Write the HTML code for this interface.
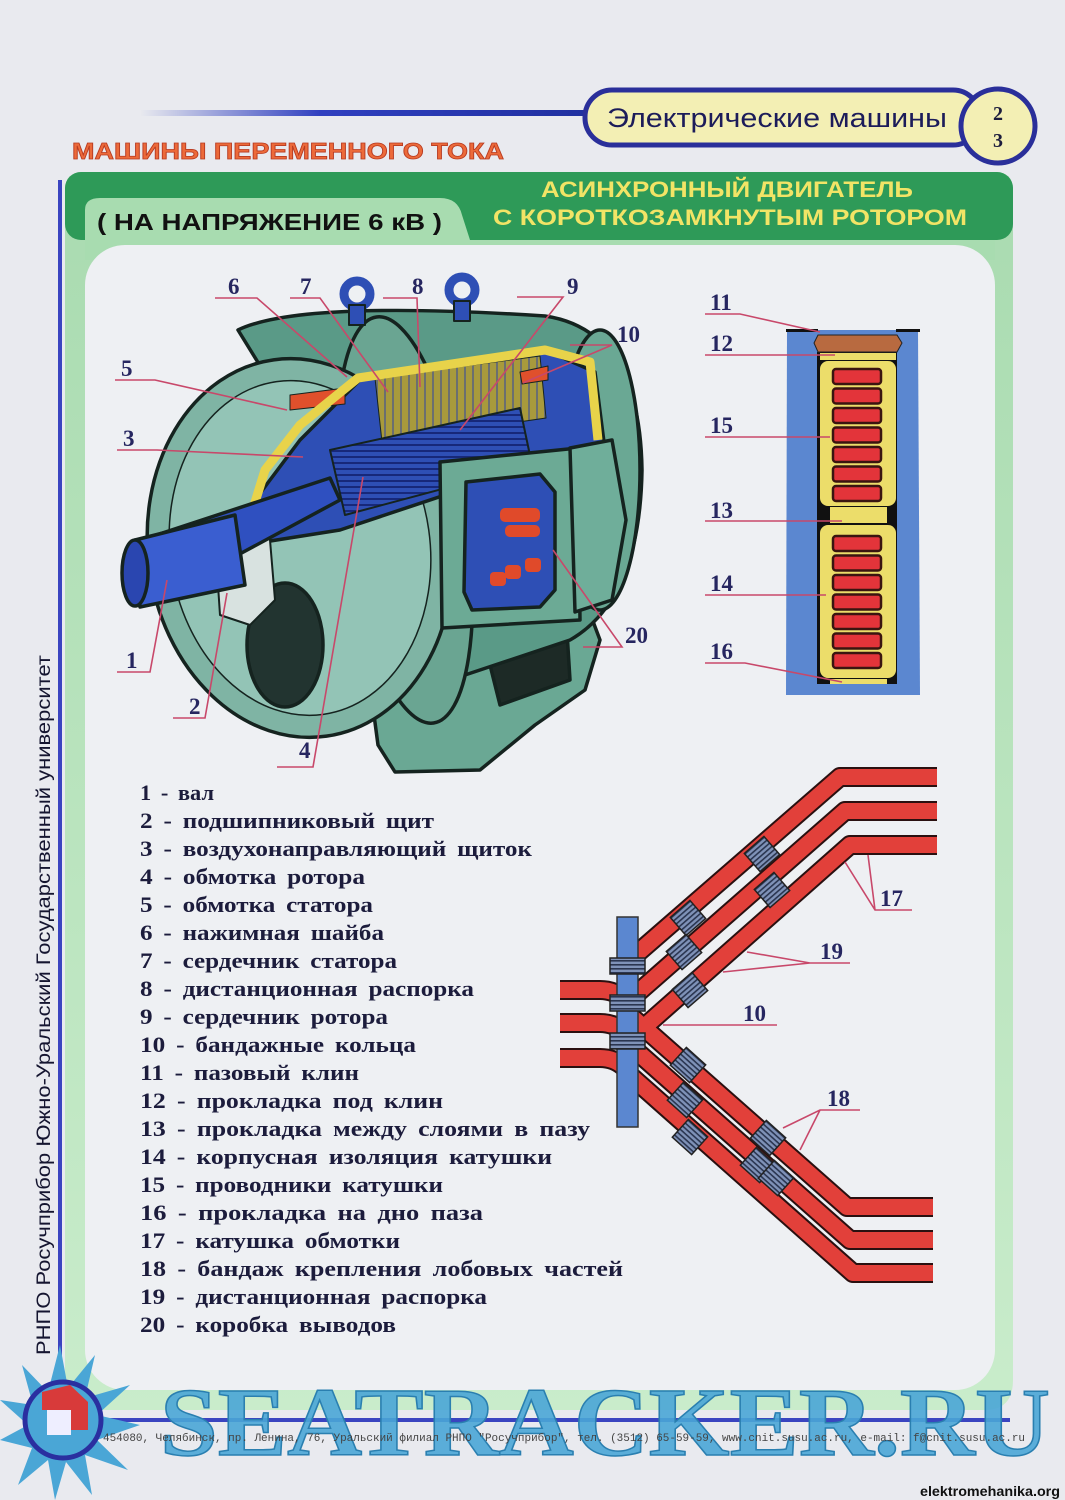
<!DOCTYPE html>
<html><head><meta charset="utf-8"><style>
html,body{margin:0;padding:0;background:#e9eaef;}
svg{display:block}
.lg{font-family:"Liberation Serif",serif;font-weight:bold;font-size:22px;fill:#1c1c3c;word-spacing:4px}
.nm{font-family:"Liberation Serif",serif;font-weight:bold;font-size:23px;fill:#262660}
.ld{stroke:#c8486a;stroke-width:1.6;fill:none}
</style></head><body>
<svg width="1065" height="1500" viewBox="0 0 1065 1500" xmlns="http://www.w3.org/2000/svg">
<defs>
<linearGradient id="bl" x1="0" x2="1"><stop offset="0" stop-color="#3040c0" stop-opacity="0"/><stop offset="0.4" stop-color="#3040c0"/><stop offset="1" stop-color="#2030a0"/></linearGradient>
<linearGradient id="fr" x1="0" y1="0" x2="0" y2="1"><stop offset="0" stop-color="#a9dbb0"/><stop offset="1" stop-color="#c9eccb"/></linearGradient>
<pattern id="bd" width="4" height="4" patternUnits="userSpaceOnUse"><rect width="4" height="4" fill="#7f92b8"/><rect width="4" height="1.6" fill="#2a3550"/></pattern>
<pattern id="st" width="8" height="8" patternUnits="userSpaceOnUse"><rect width="8" height="8" fill="#a89a3c"/><rect width="2" height="8" fill="#6b6f70"/></pattern>
<pattern id="rt" width="6" height="6" patternUnits="userSpaceOnUse"><rect width="6" height="6" fill="#2e4fb5"/><rect width="6" height="2" fill="#17287a"/></pattern>
</defs>
<rect width="1065" height="1500" fill="#e9eaef"/>

<rect x="140" y="110" width="450" height="6" fill="url(#bl)"/>
<rect x="585" y="90" width="395" height="55" rx="27" fill="#f3efb4" stroke="#2a2f9a" stroke-width="5"/>
<text x="607" y="127" font-family="Liberation Sans,sans-serif" font-size="27" fill="#1c1c5a" textLength="340" lengthAdjust="spacingAndGlyphs">Электрические  машины</text>
<circle cx="998" cy="126" r="37" fill="#f3efb4" stroke="#2a2f9a" stroke-width="5"/>
<text x="998" y="120" text-anchor="middle" font-family="Liberation Serif,serif" font-weight="bold" font-size="20" fill="#1c1c3c">2</text>
<text x="998" y="147" text-anchor="middle" font-family="Liberation Serif,serif" font-weight="bold" font-size="20" fill="#1c1c3c">3</text>
<text x="72" y="159" font-family="Liberation Sans,sans-serif" font-weight="bold" font-size="23" fill="#ec6a3a" stroke="#b83a20" stroke-width="0.8" textLength="432" lengthAdjust="spacingAndGlyphs">МАШИНЫ   ПЕРЕМЕННОГО   ТОКА</text>

<path d="M65,190 Q65,172 83,172 L995,172 Q1013,172 1013,190 L1013,1380 Q1013,1410 985,1410 L65,1410 Z" fill="url(#fr)"/>
<rect x="65" y="172" width="948" height="68" rx="16" fill="#2e9a58"/>
<path d="M85,240 L85,210 Q85,198 100,198 L440,198 Q458,198 462,215 L470,240 Z" fill="#a8dcb0"/>
<rect x="85" y="240" width="910" height="20" fill="#a8dcb0"/>
<rect x="85" y="245" width="910" height="1145" rx="40" fill="#eef0f3"/>
<text x="97" y="230" font-family="Liberation Sans,sans-serif" font-weight="bold" font-size="23" fill="#111" textLength="345" lengthAdjust="spacingAndGlyphs">( НА  НАПРЯЖЕНИЕ  6  кВ )</text>
<text x="727" y="197" text-anchor="middle" font-family="Liberation Sans,sans-serif" font-weight="bold" font-size="22" fill="#f2e466" textLength="372" lengthAdjust="spacingAndGlyphs">АСИНХРОННЫЙ   ДВИГАТЕЛЬ</text>
<text x="730" y="225" text-anchor="middle" font-family="Liberation Sans,sans-serif" font-weight="bold" font-size="22" fill="#f2e466" textLength="474" lengthAdjust="spacingAndGlyphs">С КОРОТКОЗАМКНУТЫМ   РОТОРОМ</text>

<rect x="58" y="180" width="4" height="1240" fill="#3a44c0"/>
<text transform="translate(50,1355) rotate(-90)" font-family="Liberation Sans,sans-serif" font-size="19" fill="#151530" textLength="700" lengthAdjust="spacingAndGlyphs">РНПО Росучприбор   Южно-Уральский  Государственный  университет</text>

<g stroke="#15231f" stroke-width="3.5" stroke-linejoin="round">
<path d="M372,700 L420,655 L585,600 L600,640 L585,690 L535,725 L480,770 L395,772 L378,745 Z" fill="#6aa894"/>
<path d="M480,625 L565,600 L570,680 L500,705 Z" fill="#1d2a26"/>
<path d="M238,330 Q300,300 545,316 Q640,330 642,470 Q640,600 570,640 L420,690 L380,560 Z" fill="#5a9a87"/>
<ellipse cx="600" cy="470" rx="40" ry="140" fill="#6aa894"/>
<ellipse cx="405" cy="520" rx="62" ry="205" transform="rotate(-8 405 520)" fill="#6aa592"/>
<ellipse cx="300" cy="548" rx="152" ry="190" transform="rotate(-8 300 548)" fill="#7fb4a4"/>
<ellipse cx="300" cy="548" rx="130" ry="168" transform="rotate(-8 300 548)" fill="#93c4b6" stroke-width="1.5"/>
<ellipse cx="285" cy="645" rx="38" ry="62" fill="#223430"/>
<path d="M245,545 L255,500 L300,440 L360,380 L545,350 L595,372 L605,450 L520,470 L340,530 Z" fill="#2e4fb5"/>
<path d="M375,378 L540,356 L546,418 L382,442 Z" fill="url(#st)" stroke-width="1"/>
<path d="M330,450 L520,408 L532,465 L345,515 Z" fill="url(#rt)" stroke-width="2"/>
<path d="M290,395 L345,388 L345,404 L290,410 Z" fill="#e0502c" stroke-width="1"/>
<path d="M520,372 L548,366 L548,380 L522,384 Z" fill="#e0502c" stroke-width="1"/>
<path d="M248,525 L265,470 L300,425 L358,378 L545,350 L590,362 L598,440" fill="none" stroke="#e8d34a" stroke-width="9"/>
<path d="M270,500 L300,490 M250,530 L275,520" stroke="#e8d34a" stroke-width="6" fill="none"/>
<path d="M215,540 Q225,510 250,520 L270,540 L275,600 L250,625 L220,615 Z" fill="#d8e2e0" stroke-width="2"/>
<path d="M135,542 L330,478 L340,500 L145,605 Z" fill="#2f50c0"/>
<path d="M135,540 L235,515 L245,585 L140,607 Z" fill="#3a5ed0"/>
<ellipse cx="135" cy="573" rx="13" ry="33" fill="#2a46b0"/>
<path d="M440,462 L578,448 L580,620 L442,628 Z" fill="#6caa95"/>
<path d="M466,482 L540,474 L555,492 L555,590 L540,607 L472,610 L464,592 Z" fill="#2e4fb5"/>
<path d="M570,448 L612,440 L626,520 L612,600 L575,612 Z" fill="#6fae9a"/>
<circle cx="357" cy="294" r="13" fill="none" stroke="#2e4fb5" stroke-width="9"/>
<circle cx="462" cy="290" r="13" fill="none" stroke="#2e4fb5" stroke-width="9"/>
<rect x="349" y="305" width="16" height="20" fill="#2e4fb5" stroke-width="2"/>
<rect x="454" y="301" width="16" height="20" fill="#2e4fb5" stroke-width="2"/>
</g>
<g fill="#e04a2a"><rect x="500" y="508" width="40" height="14" rx="5"/><rect x="505" y="525" width="35" height="12" rx="5"/><rect x="505" y="565" width="16" height="14" rx="4"/><rect x="525" y="558" width="16" height="14" rx="4"/><rect x="490" y="572" width="16" height="14" rx="4"/></g>

<g class="ld">
<path d="M215,298 L257,298 L347,377"/><path d="M290,298 L320,298 L388,392"/><path d="M383,298 L417,298 L420,387"/>
<path d="M517,297 L563,297 L460,430"/><path d="M570,345 L612,345 L523,383"/><path d="M115,380 L155,380 L287,410"/>
<path d="M117,450 L157,450 L303,457"/><path d="M117,672 L150,672 L167,580"/><path d="M173,718 L205,718 L227,593"/>
<path d="M277,767 L313,767 L363,477"/><path d="M583,647 L622,647 L553,550"/>
</g>
<g class="nm">
<text x="228" y="294">6</text><text x="300" y="294">7</text><text x="412" y="294">8</text><text x="567" y="294">9</text><text x="617" y="342">10</text>
<text x="121" y="376">5</text><text x="123" y="446">3</text><text x="126" y="668">1</text><text x="189" y="714">2</text><text x="299" y="758">4</text><text x="625" y="643">20</text>
</g>

<path d="M787,330 L918,330 L920,695 L786,695 Z" fill="#5b87d0"/>
<rect x="786" y="329" width="32" height="3" fill="#111"/><rect x="896" y="329" width="24" height="3" fill="#111"/>
<rect x="817" y="352" width="80" height="332" fill="#111"/>
<path d="M818,335 L897,335 L902,343 L897,352 L818,352 L814,343 Z" fill="#b86a40" stroke="#222" stroke-width="1"/>
<rect x="820" y="353" width="76" height="7" fill="#ecdd6a"/>
<rect x="820" y="361" width="76" height="145" rx="8" fill="#ecdd6a"/>
<rect x="830" y="507" width="57" height="16" fill="#ecdd6a"/>
<rect x="820" y="525" width="76" height="153" rx="8" fill="#ecdd6a"/>
<rect x="830" y="679" width="57" height="5" fill="#ecdd6a"/>
<g fill="#e3343a" stroke="#3a1510" stroke-width="2.5">
<rect x="833" y="369" width="48" height="15" rx="3"/><rect x="833" y="388.5" width="48" height="15" rx="3"/><rect x="833" y="408" width="48" height="15" rx="3"/><rect x="833" y="427.5" width="48" height="15" rx="3"/><rect x="833" y="447" width="48" height="15" rx="3"/><rect x="833" y="466.5" width="48" height="15" rx="3"/><rect x="833" y="486" width="48" height="15" rx="3"/>
<rect x="833" y="536" width="48" height="15" rx="3"/><rect x="833" y="555.5" width="48" height="15" rx="3"/><rect x="833" y="575" width="48" height="15" rx="3"/><rect x="833" y="594.5" width="48" height="15" rx="3"/><rect x="833" y="614" width="48" height="15" rx="3"/><rect x="833" y="633.5" width="48" height="15" rx="3"/><rect x="833" y="653" width="48" height="15" rx="3"/>
</g>
<g class="ld">
<path d="M705,314 L740,314 L820,332"/><path d="M705,355 L835,355"/><path d="M705,437 L830,437"/><path d="M705,521 L842,521"/><path d="M705,595 L826,595"/><path d="M705,663 L745,663 L842,682"/>
</g>
<g class="nm"><text x="710" y="310">11</text><text x="710" y="351">12</text><text x="710" y="433">15</text><text x="710" y="518">13</text><text x="710" y="591">14</text><text x="710" y="659">16</text></g>

<g fill="none" stroke-linejoin="round">
<g stroke="#2a1010" stroke-width="20">
<path d="M937,777 L840,777 L625,964"/><path d="M937,811 L845,811 L625,1004"/><path d="M937,845 L850,845 L625,1044"/>
<path d="M625,1011 L847,1207 L933,1207"/><path d="M625,1041 L850,1240 L933,1240"/><path d="M625,1071 L853,1273 L933,1273"/>
<path d="M560,990 L600,990 Q615,990 625,1000"/><path d="M560,1023 L600,1023 Q615,1023 625,1033"/><path d="M560,1058 L600,1058 Q615,1058 625,1068"/>
</g>
<g stroke="#e2403a" stroke-width="16">
<path d="M937,777 L840,777 L625,964"/><path d="M937,811 L845,811 L625,1004"/><path d="M937,845 L850,845 L625,1044"/>
<path d="M625,1011 L847,1207 L933,1207"/><path d="M625,1041 L850,1240 L933,1240"/><path d="M625,1071 L853,1273 L933,1273"/>
<path d="M560,990 L600,990 Q615,990 625,1000"/><path d="M560,1023 L600,1023 Q615,1023 625,1033"/><path d="M560,1058 L600,1058 Q615,1058 625,1068"/>
</g>
</g>
<rect x="617" y="917" width="21" height="210" fill="#5b87d0" stroke="#333" stroke-width="1.5"/>
<g stroke="#222" stroke-width="1.5" fill="url(#bd)">
<rect x="610" y="958" width="35" height="16"/><rect x="610" y="995" width="35" height="16"/><rect x="610" y="1033" width="35" height="16"/>
</g>
<g stroke="#222" stroke-width="1.5" fill="url(#bd)">
<rect x="-13" y="-12" width="26" height="24" transform="translate(688,918) rotate(-41)"/>
<rect x="-13" y="-12" width="26" height="24" transform="translate(762,854) rotate(-41)"/>
<rect x="-13" y="-12" width="26" height="24" transform="translate(772,890) rotate(-41)"/>
<rect x="-13" y="-12" width="26" height="24" transform="translate(684,952) rotate(-41)"/>
<rect x="-13" y="-12" width="26" height="24" transform="translate(690,990) rotate(-41)"/>
<rect x="-13" y="-12" width="26" height="24" transform="translate(688,1065) rotate(42)"/>
<rect x="-13" y="-12" width="26" height="24" transform="translate(685,1100) rotate(42)"/>
<rect x="-13" y="-12" width="26" height="24" transform="translate(690,1137) rotate(42)"/>
<rect x="-13" y="-12" width="26" height="24" transform="translate(768,1138) rotate(42)"/>
<rect x="-13" y="-12" width="26" height="24" transform="translate(758,1165) rotate(42)"/>
<rect x="-13" y="-12" width="26" height="24" transform="translate(776,1178) rotate(42)"/>
</g>
<g class="ld">
<path d="M845,862 L875,910 L912,910 M868,855 L875,910"/>
<path d="M747,952 L810,963 L850,963 M723,972 L810,963"/>
<path d="M663,1025 L777,1025"/>
<path d="M783,1128 L820,1110 L860,1110 M800,1150 L820,1110"/>
</g>
<g class="nm"><text x="880" y="906">17</text><text x="820" y="959">19</text><text x="743" y="1021">10</text><text x="827" y="1106">18</text></g>

<g class="lg">
<text x="140" y="800" textLength="74" lengthAdjust="spacingAndGlyphs">1 - вал</text>
<text x="140" y="828" textLength="294" lengthAdjust="spacingAndGlyphs">2 - подшипниковый   щит</text>
<text x="140" y="856" textLength="392" lengthAdjust="spacingAndGlyphs">3 - воздухонаправляющий   щиток</text>
<text x="140" y="884" textLength="225" lengthAdjust="spacingAndGlyphs">4 - обмотка   ротора</text>
<text x="140" y="912" textLength="233" lengthAdjust="spacingAndGlyphs">5 - обмотка   статора</text>
<text x="140" y="940" textLength="244" lengthAdjust="spacingAndGlyphs">6 - нажимная   шайба</text>
<text x="140" y="968" textLength="257" lengthAdjust="spacingAndGlyphs">7 - сердечник   статора</text>
<text x="140" y="996" textLength="334" lengthAdjust="spacingAndGlyphs">8 - дистанционная   распорка</text>
<text x="140" y="1024" textLength="248" lengthAdjust="spacingAndGlyphs">9 - сердечник   ротора</text>
<text x="140" y="1052" textLength="276" lengthAdjust="spacingAndGlyphs">10 - бандажные   кольца</text>
<text x="140" y="1080" textLength="219" lengthAdjust="spacingAndGlyphs">11 - пазовый   клин</text>
<text x="140" y="1108" textLength="303" lengthAdjust="spacingAndGlyphs">12 - прокладка   под   клин</text>
<text x="140" y="1136" textLength="450" lengthAdjust="spacingAndGlyphs">13 - прокладка   между   слоями   в   пазу</text>
<text x="140" y="1164" textLength="412" lengthAdjust="spacingAndGlyphs">14 - корпусная   изоляция   катушки</text>
<text x="140" y="1192" textLength="303" lengthAdjust="spacingAndGlyphs">15 - проводники   катушки</text>
<text x="140" y="1220" textLength="343" lengthAdjust="spacingAndGlyphs">16 - прокладка   на   дно   паза</text>
<text x="140" y="1248" textLength="260" lengthAdjust="spacingAndGlyphs">17 - катушка   обмотки</text>
<text x="140" y="1276" textLength="483" lengthAdjust="spacingAndGlyphs">18 - бандаж   крепления   лобовых   частей</text>
<text x="140" y="1304" textLength="347" lengthAdjust="spacingAndGlyphs">19 - дистанционная   распорка</text>
<text x="140" y="1332" textLength="256" lengthAdjust="spacingAndGlyphs">20 - коробка   выводов</text>
</g>

<rect x="60" y="1418" width="950" height="4" fill="#3a44c0"/>
<g fill="#4aa6d6">
<polygon points="60,1345 68,1388 95,1355 85,1398 130,1385 97,1415 140,1425 97,1440 128,1470 85,1455 92,1495 66,1462 55,1500 48,1460 18,1485 32,1448 0,1440 28,1425 0,1400 33,1405 22,1365 48,1392"/>
</g>
<circle cx="63" cy="1420" r="38" fill="#4aa6d6" stroke="#2a2fa0" stroke-width="5"/>
<path d="M42,1392 L70,1385 L88,1402 L88,1430 L60,1430 L60,1410 L42,1410 Z" fill="#d83a3a"/>
<rect x="47" y="1410" width="24" height="25" fill="#eef"/>
<text x="160" y="1455" font-family="Liberation Serif,serif" font-weight="bold" font-size="98" fill="#4aa6d6" fill-opacity="0.9" stroke="#2a7fb0" stroke-width="1.5" textLength="890" lengthAdjust="spacingAndGlyphs">SEATRACKER.RU</text>
<text x="103" y="1441" font-family="Liberation Mono,monospace" font-size="11" fill="#444" textLength="922" lengthAdjust="spacingAndGlyphs">454080, Челябинск, пр. Ленина, 76, Уральский филиал РНПО "Росучприбор", тел. (3512) 65-59-59, www.cnit.susu.ac.ru,  e-mail: f@cnit.susu.ac.ru</text>
<text x="920" y="1496" font-family="Liberation Sans,sans-serif" font-weight="bold" font-size="14" fill="#111" textLength="140" lengthAdjust="spacingAndGlyphs">elektromehanika.org</text>
</svg>
</body></html>
